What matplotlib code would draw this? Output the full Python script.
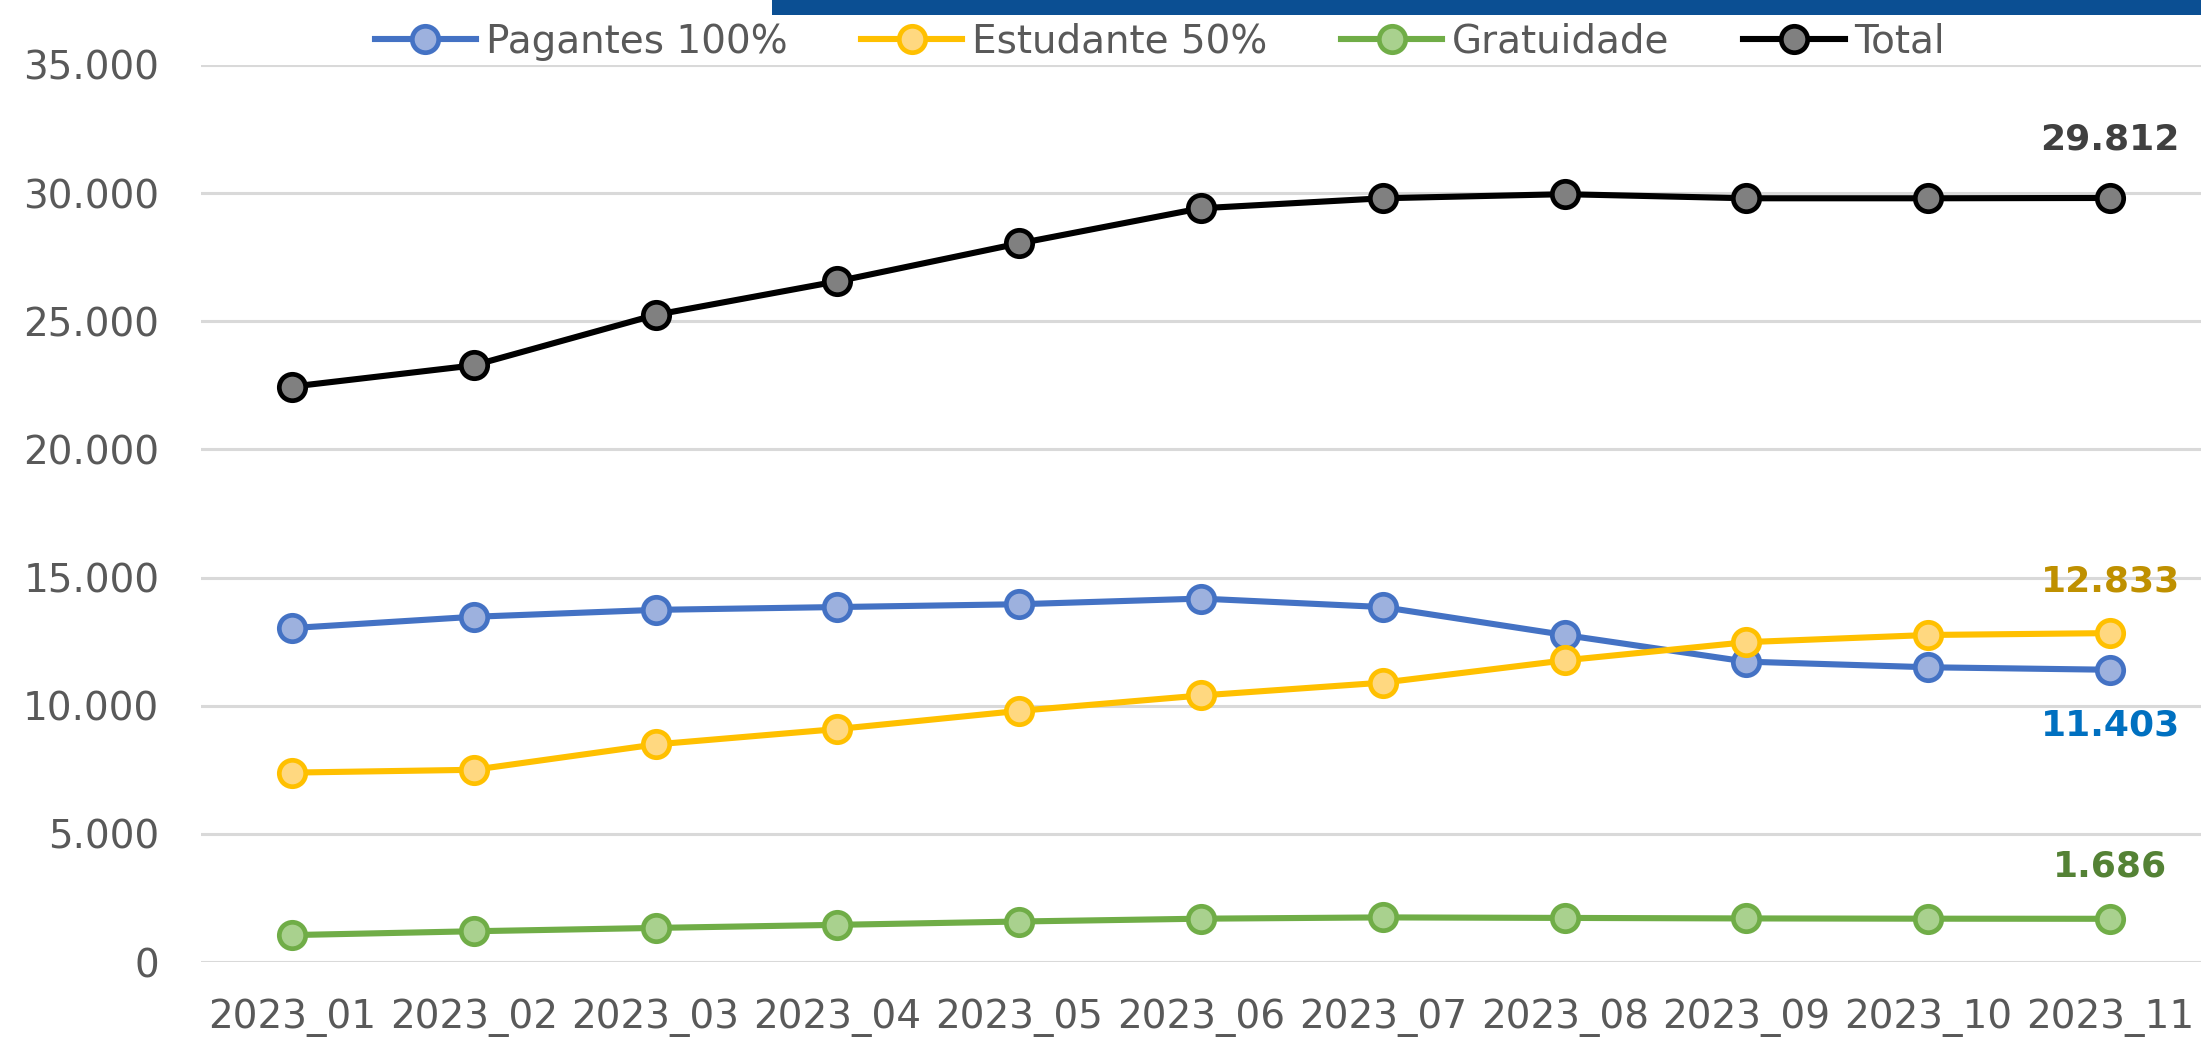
import matplotlib
matplotlib.use("Agg")
import matplotlib.pyplot as plt
from matplotlib.patches import Rectangle
from matplotlib.ticker import FuncFormatter, MultipleLocator

categories = ["2023_01", "2023_02", "2023_03", "2023_04", "2023_05", "2023_06",
              "2023_07", "2023_08", "2023_09", "2023_10", "2023_11"]
pagantes = [13030, 13470, 13740, 13850, 13960, 14180, 13850, 12760, 11720, 11500, 11403]
estudante = [7390, 7500, 8490, 9090, 9800, 10400, 10900, 11770, 12480, 12760, 12833]
gratuidade = [1050, 1200, 1330, 1450, 1580, 1690, 1740, 1720, 1700, 1690, 1686]
total = [22450, 23280, 25250, 26560, 28040, 29410, 29800, 29960, 29800, 29800, 29812]

series = [
    ("Pagantes 100%", pagantes, "#4472C4", "#9DB1DE", "#0070C0", -56),
    ("Estudante 50%", estudante, "#FFC000", "#FFD880", "#BF9000", 52),
    ("Gratuidade", gratuidade, "#70AD47", "#A9D18E", "#548235", 52),
    ("Total", total, "#000000", "#808080", "#404040", 58),
]

W, H = 2201, 1046
fig = plt.figure(figsize=(W / 100, H / 100), dpi=100)
ax = fig.add_axes([201 / W, 1 - 962 / H, 1 - 201 / W, (962 - 65) / H])

x = list(range(len(categories)))
for name, vals, col, face, lblcol, off in series:
    ax.plot(x, vals, color=col, lw=4.4, marker="o", markersize=19,
            markerfacecolor=face, markeredgecolor=col, markeredgewidth=3.4,
            label=name, zorder=3, solid_joinstyle="round")
    ax.annotate(f"{vals[-1]:,}".replace(",", "."), (x[-1], vals[-1]),
                xytext=(0, off), textcoords="offset pixels",
                ha="center", va="center", fontsize=26, fontweight="bold",
                color=lblcol, zorder=4)

ax.set_xlim(-0.5, len(categories) - 0.5)
ax.set_ylim(0, 35000)
ax.yaxis.set_major_locator(MultipleLocator(5000))
ax.yaxis.set_major_formatter(FuncFormatter(lambda v, p: f"{int(v):,}".replace(",", ".")))
ax.set_xticks(x)
ax.set_xticklabels(categories)
ax.grid(axis="y", color="#D9D9D9", lw=2.2)
ax.set_axisbelow(True)
for s in ax.spines.values():
    s.set_visible(False)
ax.tick_params(axis="both", length=0, labelsize=28, colors="#595959")
ax.tick_params(axis="y", pad=30)
ax.tick_params(axis="x", pad=26)

fig.legend(loc="center", bbox_to_anchor=(0.527, 0.96), ncol=4, frameon=False,
           fontsize=28, labelcolor="#595959", handlelength=2.6,
           columnspacing=1.9, handletextpad=0.25)

bar = Rectangle((772 / W, 1 - 15 / H), (W - 772) / W, 15 / H,
                transform=fig.transFigure, facecolor="#0B4F93",
                edgecolor="none", zorder=6)
fig.add_artist(bar)

fig.savefig("out.png", dpi=100)
